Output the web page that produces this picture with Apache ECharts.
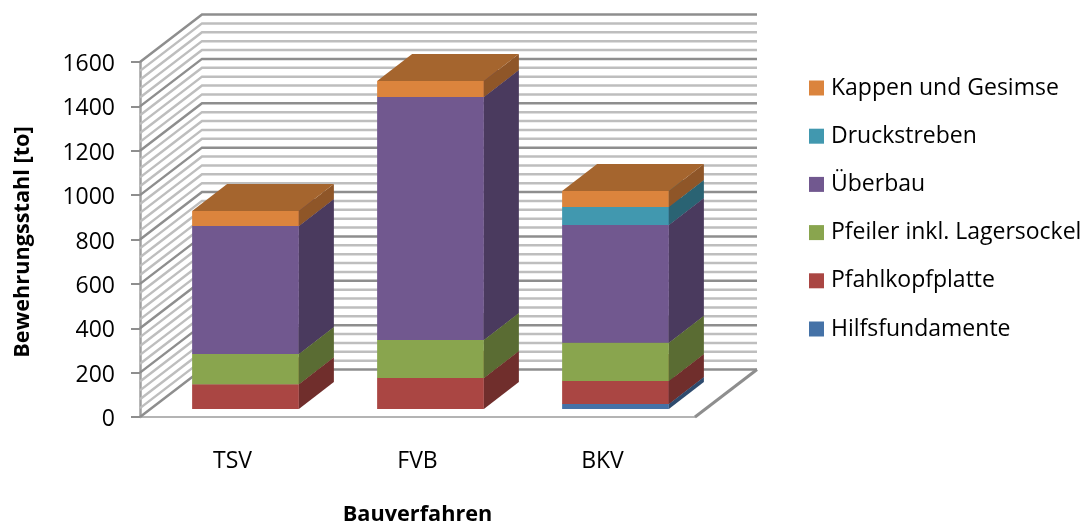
<!DOCTYPE html>
<html>
<head>
<meta charset="utf-8">
<style>html,body{margin:0;padding:0;background:#fff}#c{width:1090px;height:524px}</style>
<script src="https://cdn.jsdelivr.net/npm/echarts@6/dist/echarts.min.js"></script>
</head>
<body>
<div id="c"></div>
<script>
const categories = ['TSV', 'FVB', 'BKV'];
const hilfsfundamente = [0, 0, 22];
const pfahlkopfplatte = [111, 140, 104];
const pfeiler = [137, 171, 173];
const ueberbau = [577, 1095, 530];
const druckstreben = [0, 0, 81];
const kappen = [67, 72, 72];

const seriesNames = ['Hilfsfundamente', 'Pfahlkopfplatte', 'Pfeiler inkl. Lagersockel', 'Überbau', 'Druckstreben', 'Kappen und Gesimse'];
const seriesValues = [hilfsfundamente, pfahlkopfplatte, pfeiler, ueberbau, druckstreben, kappen];
const frontColors = ['#4572A7', '#AA4643', '#89A54E', '#71588F', '#4198AF', '#DB843D'];
const sideColors = ['#2E4B6E', '#702E2C', '#5A6C33', '#4A3A5E', '#2A6373', '#8F5628'];
const topColors = ['#34557D', '#803532', '#677C3A', '#55426B', '#317283', '#A5652E'];
const legendOrder = seriesNames.slice().reverse();

const yTicks = [0, 200, 400, 600, 800, 1000, 1200, 1400, 1600];
const minorStep = 40;

const FONT = 'Open Sans';
const wallDx = 62, wallDy = -47.5;
const barDx = 13, barDy = -8, barWidthRatio = 0.577;
const depthDx = 35, depthDy = -27;

const gridValues = [];
for (let v = 0; v <= 1600; v += minorStep) gridValues.push(v);

function stackBase(s, i) {
  let b = 0;
  for (let k = 0; k < s; k++) b += seriesValues[k][i];
  return b;
}

const wallSeries = {
  type: 'custom',
  name: 'wall',
  silent: true,
  z: 1,
  clip: false,
  data: gridValues,
  encode: { y: 0 },
  renderItem(params, api) {
    const v = api.value(0);
    const y = api.coord([0, v])[1];
    const cs = params.coordSys;
    const major = yTicks.indexOf(v) >= 0;
    return {
      type: 'polyline',
      shape: { points: [[cs.x, y], [cs.x + wallDx, y + wallDy], [cs.x + cs.width + wallDx, y + wallDy]] },
      style: { fill: 'none', stroke: major ? '#8E8E8E' : '#BEBEBE', lineWidth: 2.5 }
    };
  }
};

const floorSeries = {
  type: 'custom',
  name: 'floor',
  silent: true,
  z: 1,
  clip: false,
  data: [0],
  encode: { y: 0 },
  renderItem(params, api) {
    const y = api.coord([0, 0])[1];
    const cs = params.coordSys;
    return {
      type: 'polyline',
      shape: { points: [[cs.x + cs.width, y], [cs.x + cs.width + wallDx, y + wallDy]] },
      style: { fill: 'none', stroke: '#8E8E8E', lineWidth: 3 }
    };
  }
};

const barSeries = seriesNames.map((name, s) => ({
  type: 'custom',
  name,
  z: 3,
  clip: false,
  itemStyle: { color: frontColors[s] },
  data: seriesValues[s].map((v, i) => [i, v]),
  encode: { x: 0, y: 1 },
  renderItem(params, api) {
    const i = api.value(0);
    const v = api.value(1);
    if (!v) return null;
    const base = stackBase(s, i);
    const bw = api.size([1, 0])[0] * barWidthRatio;
    const pLow = api.coord([i, base]);
    const pHigh = api.coord([i, base + v]);
    const x0 = pLow[0] - bw / 2 + barDx, x1 = x0 + bw;
    const yb = pLow[1] + barDy, yt = pHigh[1] + barDy;
    return {
      type: 'group',
      children: [
        { type: 'rect', shape: { x: x0, y: yt, width: bw, height: yb - yt }, style: { fill: frontColors[s] } },
        { type: 'polygon', shape: { points: [[x1, yb], [x1 + depthDx, yb + depthDy], [x1 + depthDx, yt + depthDy], [x1, yt]] }, style: { fill: sideColors[s] } },
        { type: 'polygon', shape: { points: [[x0, yt], [x1, yt], [x1 + depthDx, yt + depthDy], [x0 + depthDx, yt + depthDy]] }, style: { fill: topColors[s] } }
      ]
    };
  }
}));

const chart = echarts.init(document.getElementById('c'), null, { renderer: 'canvas' });
chart.setOption({
  animation: false,
  backgroundColor: '#ffffff',
  grid: { left: 140, top: 62, width: 555, height: 355, containLabel: false, outerBoundsMode: 'none' },
  legend: {
    orient: 'vertical',
    left: 809,
    top: 75,
    padding: 0,
    data: legendOrder,
    icon: 'rect',
    itemWidth: 15,
    itemHeight: 15,
    itemGap: 22.2,
    selectedMode: false,
    textStyle: { fontFamily: FONT, fontSize: 23, color: '#000', lineHeight: 26, padding: [0, 0, 0, 2] }
  },
  xAxis: {
    type: 'category',
    data: categories,
    name: 'Bauverfahren',
    nameLocation: 'middle',
    nameGap: 87,
    nameTextStyle: { fontFamily: FONT, fontSize: 21.7, fontWeight: 'bold', color: '#000' },
    axisTick: { show: false },
    axisLine: { lineStyle: { color: '#B4B4B4', width: 2 } },
    axisLabel: { fontFamily: FONT, fontSize: 23, color: '#000', margin: 33 }
  },
  yAxis: {
    type: 'value',
    min: 0,
    max: 1600,
    interval: 200,
    name: 'Bewehrungsstahl [to]',
    nameLocation: 'middle',
    nameGap: 106,
    nameTextStyle: { fontFamily: FONT, fontSize: 21.7, fontWeight: 'bold', color: '#000', padding: [0, 5, 0, 0] },
    splitLine: { show: false },
    axisLine: { show: true, lineStyle: { color: '#A0A0A0', width: 2.5 } },
    axisTick: { show: true, length: 9, lineStyle: { color: '#8E8E8E', width: 2 } },
    axisLabel: {
      fontFamily: FONT, fontSize: 23, color: '#000', margin: 25,
      formatter: (v) => '{v|' + v + '}',
      rich: { v: { fontFamily: FONT, fontSize: 23, color: '#000', padding: [5, 0, 0, 0] } }
    }
  },
  series: [wallSeries, floorSeries].concat(barSeries)
});
</script>
</body>
</html>
